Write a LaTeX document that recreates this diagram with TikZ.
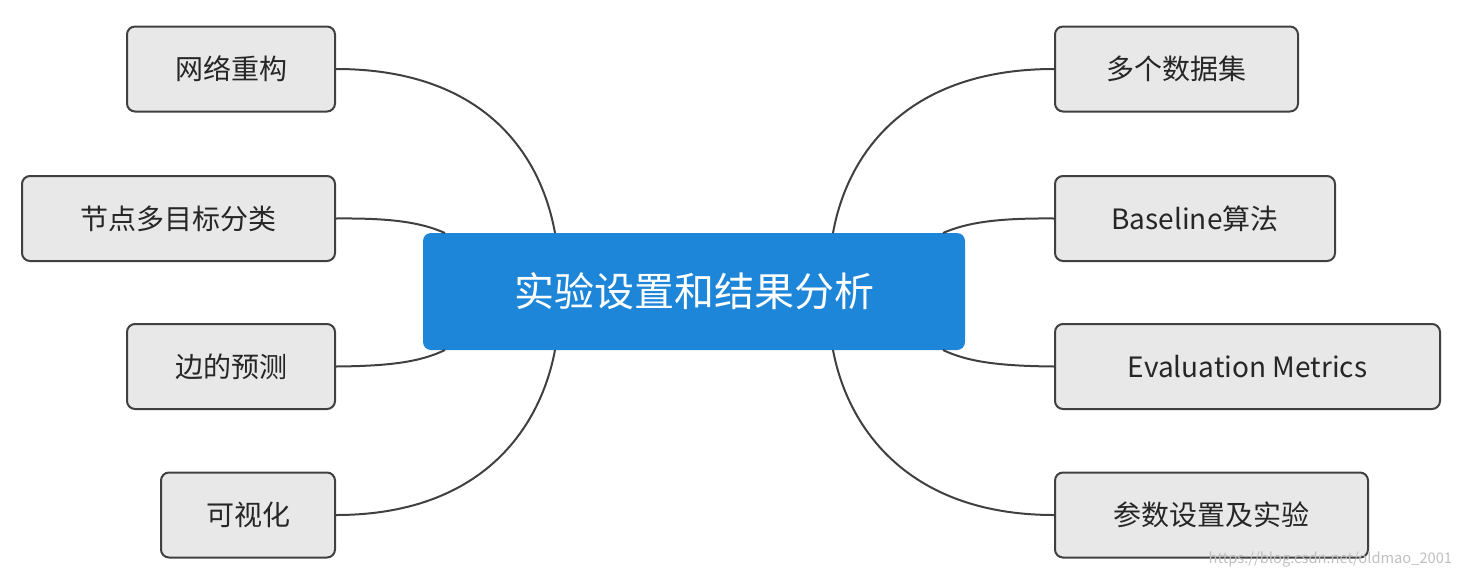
\documentclass[tikz,border=0pt]{standalone}
\usepackage{fontspec}
\setmainfont{Noto Sans CJK SC}
\begin{document}
\begin{tikzpicture}[x=0.75pt,y=-0.75pt,
  leaf/.style={draw=black!75,line width=1.5pt,fill=black!9,rounded corners=6pt,font=\fontsize{21}{24}\selectfont,text=black!85,inner sep=0pt,minimum height=63.75pt},
  conn/.style={draw=black!75,line width=1.5pt}]
\useasboundingbox (0,0) rectangle (1462,579);
\node[fill={rgb,255:red,30;green,134;blue,217},rounded corners=6pt,minimum width=406.5pt,minimum height=87.75pt,inner sep=0pt,text=white,font=\fontsize{30}{34}\selectfont] (c) at (694,291.5) {实验设置和结果分析};
\node[leaf,minimum width=156pt] (l1) at (231,69) {网络重构};
\node[leaf,minimum width=234.75pt] (l2) at (178.5,218.5) {节点多目标分类};
\node[leaf,minimum width=156pt] (l3) at (231,366.5) {边的预测};
\node[leaf,minimum width=130.5pt] (l4) at (248,515) {可视化};
\node[leaf,minimum width=182.25pt] (r1) at (1176.5,69) {多个数据集};
\node[leaf,minimum width=210pt] (r2) at (1195,218.5) {Baseline算法};
\node[leaf,minimum width=288.75pt] (r3) at (1247.5,366.5) {Evaluation Metrics};
\node[leaf,minimum width=234.75pt] (r4) at (1211.5,515) {参数设置及实验};
\coordinate (a1) at (555,233); \coordinate (a2) at (445,233);
\coordinate (a3) at (445,350); \coordinate (a4) at (555,350);
\coordinate (b1) at (833,233); \coordinate (b2) at (943,233);
\coordinate (b3) at (943,350); \coordinate (b4) at (833,350);
\draw[conn] (l1.east) .. controls (480,69) and (540,150) .. (a1);
\draw[conn] (l2.east) .. controls (390,218) and (420,222) .. (a2);
\draw[conn] (l3.east) .. controls (390,366) and (420,362) .. (a3);
\draw[conn] (l4.east) .. controls (480,515) and (540,430) .. (a4);
\draw[conn] (r1.west) .. controls (910,69) and (848,150) .. (b1);
\draw[conn] (r2.west) .. controls (1000,218) and (968,222) .. (b2);
\draw[conn] (r3.west) .. controls (1000,366) and (968,362) .. (b3);
\draw[conn] (r4.west) .. controls (910,515) and (848,430) .. (b4);
\node[anchor=south east,text=black!25,font=\fontsize{11}{12}\selectfont,inner sep=2pt] (wm) at (1455,570) {https://blog.csdn.net/oldmao\_2001};
\end{tikzpicture}
\end{document}
